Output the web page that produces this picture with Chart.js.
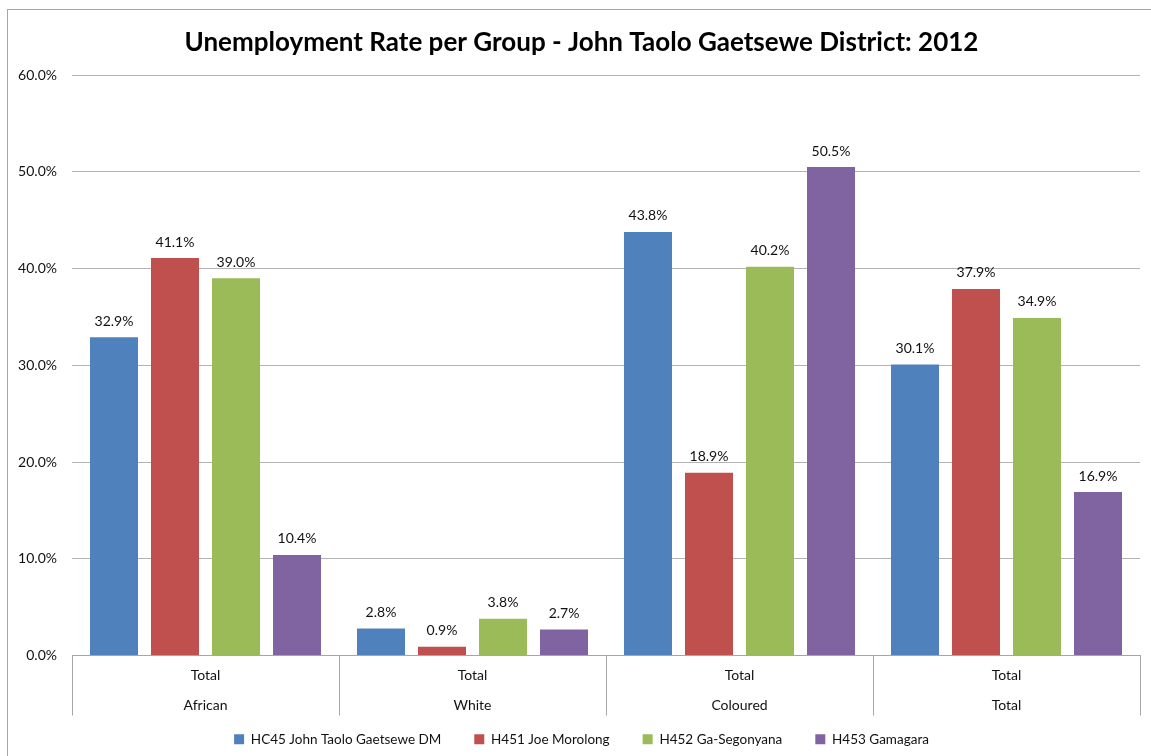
<!DOCTYPE html>
<html>
<head>
<meta charset="utf-8">
<script src="https://cdn.jsdelivr.net/npm/chart.js@4"></script>
<style>
  html, body { margin: 0; padding: 0; background: #fff; }
  body { width: 1151px; height: 756px; position: relative; overflow: hidden; }
  #frame { position: absolute; left: 7px; top: 9px; width: 1200px; height: 800px; border: 1px solid #a6a6a6; }
  #wrap { position: absolute; left: 0; top: 0; width: 1151px; height: 756px; }
</style>
</head>
<body>
<div id="frame"></div>
<div id="wrap"><canvas id="grafico" width="1151" height="756"></canvas></div>
<script>
const categorias = ['African', 'White', 'Coloured', 'Total'];
const nomesSeries = ['HC45 John Taolo Gaetsewe DM', 'H451 Joe Morolong', 'H452 Ga-Segonyana', 'H453 Gamagara'];
const cores = ['#4F81BD', '#C0504D', '#9BBB59', '#8064A2'];

const serieDM = [32.9, 2.8, 43.8, 30.1];
const serieMorolong = [41.1, 0.9, 18.9, 37.9];
const serieSegonyana = [39.0, 3.8, 40.2, 34.9];
const serieGamagara = [10.4, 2.7, 50.5, 16.9];

const fonte = 'Lato, "Open Sans", sans-serif';

// rotulos em cima das barras
const rotulosBarras = {
  id: 'rotulosBarras',
  afterDatasetsDraw(chart) {
    const ctx = chart.ctx;
    ctx.save();
    ctx.font = '14px ' + fonte;
    ctx.fillStyle = '#111';
    ctx.textAlign = 'center';
    ctx.textBaseline = 'middle';
    chart.data.datasets.forEach((ds, i) => {
      const meta = chart.getDatasetMeta(i);
      meta.data.forEach((bar, j) => {
        ctx.fillText(ds.data[j].toFixed(1) + '%', bar.x, bar.y - 16);
      });
    });
    ctx.restore();
  }
};

// deixa os rotulos dos eixos sairem da caixa (senao sao cortados)
const soltarEixos = {
  id: 'soltarEixos',
  afterLayout(chart) {
    chart.scales.x.bottom = chart.height;
    chart.scales.y.left = 0;
  }
};

const series = [serieDM, serieMorolong, serieSegonyana, serieGamagara];

new Chart(document.getElementById('grafico'), {
  type: 'bar',
  data: {
    labels: categorias.map(c => ['Total', c]),
    datasets: series.map((s, i) => ({
      label: nomesSeries[i],
      data: s,
      backgroundColor: cores[i],
      borderWidth: 0,
      categoryPercentage: 0.914,
      barPercentage: 0.787
    }))
  },
  options: {
    responsive: false,
    animation: false,
    devicePixelRatio: 1,
    layout: { padding: { left: 23, right: 11, top: 0, bottom: 0 } },
    plugins: {
      title: {
        display: true,
        text: 'Unemployment Rate per Group - John Taolo Gaetsewe District: 2012',
        color: '#000',
        font: { family: fonte, size: 26, weight: 'bold' },
        padding: { top: 27, bottom: 17 }
      },
      legend: {
        position: 'bottom',
        labels: {
          color: '#111',
          font: { family: fonte, size: 13.5 },
          boxWidth: 10,
          boxHeight: 10,
          padding: 33
        }
      },
      tooltip: { enabled: false }
    },
    scales: {
      y: {
        min: 0,
        max: 60,
        ticks: {
          stepSize: 10,
          padding: 15,
          color: '#111',
          font: { family: fonte, size: 14 },
          callback: v => v.toFixed(1) + '%'
        },
        grid: { color: '#b3b3b3', drawTicks: false },
        border: { display: false },
        afterFit(scale) { scale.width = 49; }
      },
      x: {
        ticks: {
          padding: -55,
          color: '#111',
          font: { family: fonte, size: 14, lineHeight: 30 / 14 }
        },
        grid: { drawOnChartArea: false, tickLength: 60, color: '#a6a6a6' },
        border: { display: true, color: '#a6a6a6' },
        afterFit(scale) { scale.height = 44; }
      }
    }
  },
  plugins: [rotulosBarras, soltarEixos]
});
</script>
</body>
</html>
